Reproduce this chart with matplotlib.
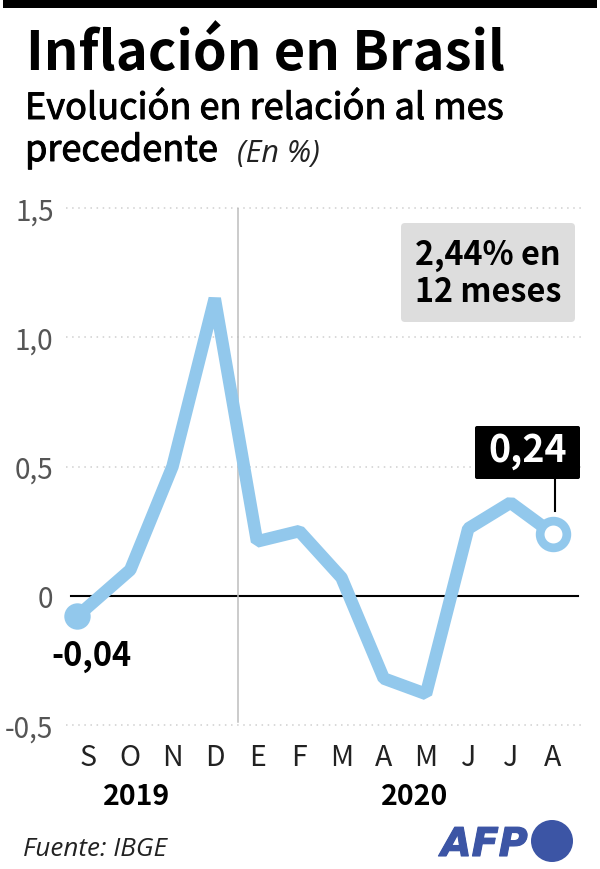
#!/usr/bin/env python3
import matplotlib
matplotlib.use('Agg')
import matplotlib.pyplot as plt
import matplotlib.patheffects as pe
from matplotlib.patches import Circle, FancyBboxPatch, Rectangle

plt.rcParams['font.family'] = ['Noto Sans CJK SC', 'DejaVu Sans']

# data
months = ['S', 'O', 'N', 'D', 'E', 'F', 'M', 'A', 'M', 'J', 'J', 'A']
month_pos = list(range(12))
line_pos = [-0.26, 1, 2, 3, 4, 5, 6, 7, 8, 9, 10, 11]  # first point sits left of its label
values = [-0.08, 0.10, 0.50, 1.15, 0.21, 0.25, 0.07, -0.32, -0.38, 0.26, 0.36, 0.24]
y_ticks = [-0.5, 0, 0.5, 1.0, 1.5]
y_labels = ['-0,5', '0', '0,5', '1,0', '1,5']

W, H = 600, 870
LINE = '#92c8ec'
GRAY = '#bdbdbd'
BLUE = '#3c55a5'
ITALIC = ['Open Sans', 'DejaVu Sans']

fig = plt.figure(figsize=(W / 100, H / 100), dpi=100)

# plot area
left, right, top, bottom = 66, 584, 209, 726
ax = fig.add_axes([left / W, 1 - bottom / H, (right - left) / W, (bottom - top) / H])
ax.set_xlim((left - 88) / 42.25, (right - 88) / 42.25)
ax.set_ylim(-0.5, 1.5)
for s in ax.spines.values():
    s.set_visible(False)

for t in y_ticks:
    if t != 0:
        ax.axhline(t, color='#cfcfcf', lw=1.1, ls=(0, (1, 3)), zorder=1, clip_on=False)
ax.axhline(0, color='black', lw=1.5, zorder=2, xmin=0.01, xmax=0.988)
ax.plot([3.55, 3.55], [-0.49, 1.5], color=GRAY, lw=1.1, zorder=2)

ax.plot(line_pos, values, color=LINE, lw=9, solid_joinstyle='bevel', solid_capstyle='butt', zorder=3)
ax.plot(line_pos[0], values[0], 'o', ms=19, color=LINE, mew=0, zorder=4, clip_on=False)
ax.plot(line_pos[-1], values[-1], 'o', ms=19.2, mfc='white', mec=LINE, mew=6.3, zorder=4)

ax.set_xticks(month_pos)
ax.set_xticklabels(months, fontsize=20.5, color='#222222')
ax.set_yticks(y_ticks)
ax.set_yticklabels(y_labels, fontsize=20, color='#555555')
ax.tick_params(length=0)
ax.tick_params(axis='x', pad=12)
ax.tick_params(axis='y', pad=9)

# top layer in pixel coordinates for title, boxes and logo
bg = fig.add_axes([0, 0, 1, 1])
bg.patch.set_alpha(0)
bg.set_xlim(0, W)
bg.set_ylim(H, 0)
bg.axis('off')

heavier = [pe.withStroke(linewidth=0.7, foreground='black')]

# header
bg.add_patch(Rectangle((3, 0), 594, 9, color='black', lw=0))
bg.text(26, 70, 'Inflación en Brasil', fontsize=39, fontweight='bold', color='black')
bg.text(25, 120, 'Evolución en relación al mes', fontsize=26, color='black', path_effects=heavier)
bg.text(25, 162, 'precedente', fontsize=26, color='black', path_effects=heavier)
bg.text(237, 162, '(En %)', fontsize=22, style='italic', color='#222222', family=ITALIC)

# boxes
bg.add_patch(FancyBboxPatch((403, 226), 170, 95, boxstyle='round,pad=2,rounding_size=4',
                            fc='#dddddd', ec='none'))
bg.text(488, 274, '2,44% en\n12 meses', fontsize=23.3, fontweight='bold', ha='center', va='center',
        linespacing=1.12, color='black')
bg.plot([554.5, 554.5], [480, 512], color='black', lw=1.5, zorder=5)
bg.add_patch(FancyBboxPatch((476, 428), 103, 51, boxstyle='round,pad=1,rounding_size=2',
                            fc='black', ec='none'))
bg.text(527.5, 451, '0,24', fontsize=27, fontweight='bold', color='white', ha='center', va='center')
bg.text(91.5, 657, '-0,04', fontsize=23.5, fontweight='bold', color='black', ha='center', va='center')

# years and footer
bg.text(137, 797, '2019', fontsize=20.5, fontweight='bold', ha='center', va='center', color='black')
bg.text(415, 797, '2020', fontsize=20.5, fontweight='bold', ha='center', va='center', color='black')
bg.text(23, 856, 'Fuente: IBGE', fontsize=18.7, style='italic', color='#222222', family=ITALIC)

# AFP logo
bg.text(441, 857, 'AFP', fontsize=28.5, fontweight='bold', style='italic', color=BLUE,
        family='DejaVu Sans', path_effects=[pe.withStroke(linewidth=0.8, foreground=BLUE)])
bg.add_patch(Circle((552, 842), 21, color=BLUE, lw=0))

fig.savefig('out.png', dpi=100)
plt.close(fig)
